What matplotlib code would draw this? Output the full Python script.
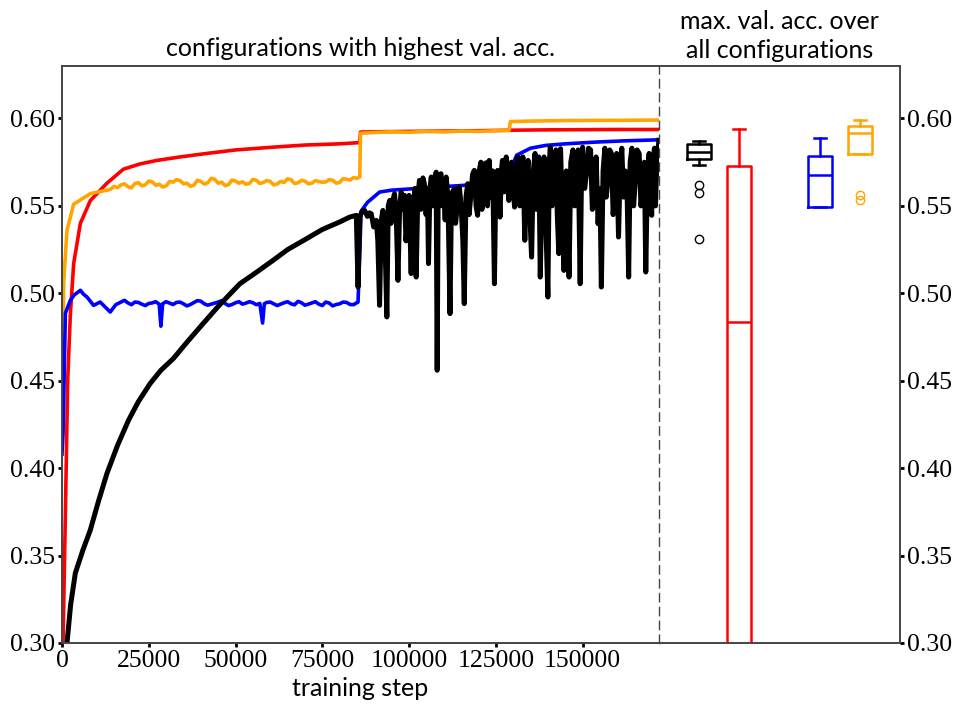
import numpy as np
from matplotlib import pyplot as plt

# ---- data ----
red_step = [0, 300, 980, 1640, 2410, 3370, 5290, 8160, 12960, 17700, 22500,
            27300, 34000, 41700, 50000, 60850, 70000, 80000, 85800, 86000,
            90000, 100000, 110000, 120000, 130000, 140000, 150000, 160000,
            172000]
red_acc = [0.28, 0.30, 0.374, 0.450, 0.488, 0.517, 0.540, 0.553, 0.563, 0.571,
           0.574, 0.576, 0.578, 0.580, 0.582, 0.5836, 0.5848, 0.5855, 0.5862,
           0.5922, 0.5924, 0.5926, 0.5928, 0.5930, 0.5933, 0.5935, 0.5936,
           0.5937, 0.5937]

orange_step = [0, 500, 1450, 3370, 5000, 8160, 12960,
               14000, 15000, 16000, 17000, 18000, 19000, 20000, 21000, 22000,
               23000, 24000, 25000, 26000, 27000, 28000, 29000, 30000, 31000,
               32000, 33000, 34000, 35000, 36000, 37000, 38000, 39000, 40000,
               41000, 42000, 43000, 44000, 45000, 46000, 47000, 48000, 49000,
               50000, 51000, 52000, 53000, 54000, 55000, 56000, 57000, 58000,
               59000, 60000, 61000, 62000, 63000, 64000, 65000, 66000, 67000,
               68000, 69000, 70000, 71000, 72000, 73000, 74000, 75000, 76000,
               77000, 78000, 79000, 80000, 81000, 82000, 83000, 84000, 85000,
               85800, 86000, 90000, 95000, 100000, 105000, 110000, 115000,
               120000, 125000, 128800, 129200, 135000, 145000, 155000, 165000,
               172000]
orange_acc = [0.42, 0.507, 0.536, 0.551, 0.553, 0.557, 0.559,
              0.5595, 0.5612, 0.5604, 0.5620, 0.5626, 0.5610, 0.5603, 0.5628,
              0.5633, 0.5615, 0.5620, 0.5642, 0.5638, 0.5618, 0.5624, 0.5608,
              0.5614, 0.5640, 0.5636, 0.5650, 0.5645, 0.5626, 0.5630, 0.5612,
              0.5618, 0.5646, 0.5640, 0.5625, 0.5632, 0.5658, 0.5652, 0.5630,
              0.5636, 0.5616, 0.5622, 0.5648, 0.5642, 0.5630, 0.5638, 0.5624,
              0.5628, 0.5652, 0.5646, 0.5628, 0.5634, 0.5645, 0.5640, 0.5620,
              0.5625, 0.5640, 0.5634, 0.5655, 0.5650, 0.5628, 0.5632, 0.5646,
              0.5642, 0.5626, 0.5630, 0.5644, 0.5640, 0.5635, 0.5637, 0.5650,
              0.5646, 0.5630, 0.5634, 0.5656, 0.5652, 0.5648, 0.5662, 0.5658,
              0.5665, 0.5915, 0.5920, 0.5924, 0.5921, 0.5926, 0.5923, 0.5928,
              0.5926, 0.5930, 0.5932, 0.5982, 0.5985, 0.5988, 0.5989, 0.5990,
              0.5991]

blue_step = [0, 300, 980, 2410, 3500, 5290, 6200, 7200, 9100, 11000, 13900,
             15500, 18000, 19000, 20000, 21000, 22000, 23000, 24000, 25000,
             26000, 27000, 28000, 28500, 29000, 30000, 31000, 32000, 33000,
             34000, 35000, 36000, 37000, 38000, 39000, 40000, 41000, 42000,
             43000, 44000, 45000, 46000, 47000, 48000, 49000, 50000, 51000,
             52000, 53000, 54000, 55000, 56000, 57000, 57800, 58300, 59000,
             60000, 61000, 62000, 63000, 64000, 65000, 66000, 67000, 68000,
             69000, 70000, 71000, 72000, 73000, 74000, 75000, 76000, 77000,
             78000, 79000, 80000, 81000, 82000, 83000, 84000, 85300, 86200,
             88000, 91500, 95000, 101000, 108000, 115450, 122000, 127900,
             129500, 131000, 135000, 139400, 145000, 153800, 162000, 172000]
blue_acc = [0.408, 0.420, 0.4886, 0.496, 0.499, 0.5017, 0.4995, 0.4979,
            0.4931, 0.4950, 0.4893, 0.4935, 0.4960, 0.4945, 0.4935, 0.4950,
            0.4948, 0.4938, 0.4930, 0.4942, 0.4945, 0.4952, 0.4938, 0.4812,
            0.4940, 0.4952, 0.4944, 0.4936, 0.4948, 0.4950, 0.4940, 0.4928,
            0.4936, 0.4947, 0.4958, 0.4955, 0.4940, 0.4932, 0.4938, 0.4944,
            0.4950, 0.4958, 0.4942, 0.4930, 0.4936, 0.4946, 0.4952, 0.4938,
            0.4944, 0.4952, 0.4946, 0.4935, 0.4942, 0.4830, 0.4940, 0.4948,
            0.4950, 0.4940, 0.4930, 0.4938, 0.4946, 0.4952, 0.4940, 0.4934,
            0.4954, 0.4946, 0.4932, 0.4938, 0.4945, 0.4952, 0.4938, 0.4930,
            0.4950, 0.4944, 0.4928, 0.4936, 0.4940, 0.4950, 0.4948, 0.4936,
            0.4935, 0.4950, 0.5470, 0.5520, 0.5579, 0.5590, 0.5598, 0.5608,
            0.5617, 0.5630, 0.5646, 0.5720, 0.5790, 0.5830, 0.5846, 0.5855,
            0.5865, 0.5872, 0.5878]

black_step = [1450, 2500, 3850, 6000, 8160, 10500, 12960, 16000, 19170, 22000,
              25400, 28500, 32100, 36000, 39780, 45000, 51270, 56000, 60850,
              65000, 70440, 75000, 80000, 82900, 84800,
              85300, 85800, 86500, 87200, 88000, 88600, 89100, 89800, 90560,
              91000, 91500, 92000, 92460, 93000, 93600, 94000, 94400, 94800,
              95200, 95800, 96300, 96800, 97300, 97740, 98200, 98700, 99100,
              99500, 100000, 100600, 101000, 101300, 101700, 102050, 102500,
              103000, 103400, 103700, 104000, 104400, 104900, 105300, 105600,
              106000, 106400, 106900, 107300, 107800, 108100, 108400, 108700,
              109200, 109600, 110000, 110400, 110700, 111200, 111800, 112200,
              112500, 113060, 113400, 113800, 114200, 114500, 115000, 115500,
              115900, 116400, 116900, 117300, 117800, 118300, 118800, 119300,
              119750, 120200, 120700, 121000, 121400, 121800, 122100, 122600,
              123100, 123600, 124100, 124600, 125000, 125500, 125900, 126200,
              126600, 126900, 127400, 128000, 128400, 128750, 129100, 129500,
              130000, 130400, 130900, 131400, 131900, 132300, 132800, 133350,
              133800, 134300, 134800, 135300, 135800, 136300, 136700, 137000,
              137400, 137800, 138300, 138900, 139400, 140000, 140400, 140700,
              141200, 141800, 142300, 142700, 143150, 143650, 144100, 144600,
              145000, 145300, 145700, 146100, 146600, 147200, 147700, 148200,
              148700, 149300, 149700, 150000, 150600, 151200, 151700, 152300,
              152800, 153300, 153900, 154450, 155000, 155400, 155900, 156400,
              156800, 157300, 157800, 158300, 158800, 159300, 159800, 160350,
              160800, 161300, 161800, 162300, 162800, 163270, 163700, 164200,
              164700, 165200, 165700, 166300, 166800, 167400, 167800, 168200,
              168700, 169170, 169500, 169900, 170300, 170700, 171000, 171300,
              171700, 172000]
black_acc = [0.300, 0.322, 0.340, 0.353, 0.3646, 0.381, 0.397, 0.413, 0.4274,
             0.438, 0.4484, 0.456, 0.4627, 0.472, 0.4807, 0.4925, 0.5055,
             0.512, 0.5189, 0.525, 0.5312, 0.5365, 0.5408, 0.5436, 0.5446,
             0.5036, 0.5440, 0.5470, 0.5474, 0.5440, 0.5460, 0.5455, 0.5380,
             0.5417, 0.5300, 0.4931, 0.5420, 0.5474, 0.5350, 0.4865, 0.5500,
             0.5531, 0.5400, 0.5520, 0.5570, 0.5450, 0.5074, 0.5500, 0.5579,
             0.5480, 0.5560, 0.5300, 0.5400, 0.5560, 0.5113, 0.5550, 0.5480,
             0.5600, 0.5093, 0.5550, 0.5646, 0.5480, 0.5540, 0.5660, 0.5627,
             0.5450, 0.5600, 0.5170, 0.5600, 0.5665, 0.5500, 0.5620, 0.5693,
             0.4560, 0.5620, 0.5660, 0.5684, 0.5500, 0.5600, 0.5420, 0.5665,
             0.5550, 0.4884, 0.5520, 0.5580, 0.5598, 0.5400, 0.5480, 0.5600,
             0.5607, 0.5500, 0.5300, 0.4941, 0.5550, 0.5627, 0.5450, 0.5560,
             0.5680, 0.5703, 0.5500, 0.5446, 0.5700, 0.5750, 0.5480, 0.5620,
             0.5740, 0.5746, 0.5500, 0.5760, 0.5550, 0.5700, 0.5055, 0.5650,
             0.5703, 0.5600, 0.5436, 0.5700, 0.5760, 0.5580, 0.5780, 0.5650,
             0.5531, 0.5700, 0.5750, 0.5600, 0.5493, 0.5720, 0.5780, 0.5500,
             0.5600, 0.5780, 0.5303, 0.5650, 0.5760, 0.5450, 0.5207, 0.5700,
             0.5800, 0.5480, 0.5550, 0.5780, 0.5093, 0.5600, 0.5780, 0.5400,
             0.4979, 0.5750, 0.5836, 0.5500, 0.5650, 0.5820, 0.5450, 0.5227,
             0.5827, 0.5500, 0.5131, 0.5600, 0.5700, 0.5400, 0.5093, 0.5750,
             0.5820, 0.5500, 0.5600, 0.5820, 0.5055, 0.5700, 0.5836, 0.5600,
             0.5700, 0.5830, 0.5820, 0.5480, 0.5550, 0.5780, 0.5398, 0.5600,
             0.5036, 0.5700, 0.5830, 0.5550, 0.5650, 0.5820, 0.5800, 0.5450,
             0.5600, 0.5800, 0.5322, 0.5700, 0.5830, 0.5550, 0.5700, 0.5600,
             0.5093, 0.5750, 0.5830, 0.5500, 0.5650, 0.5820, 0.5800, 0.5500,
             0.5600, 0.5750, 0.5122, 0.5700, 0.5800, 0.5600, 0.5446, 0.5750,
             0.5830, 0.5500, 0.5700, 0.5820, 0.5875]

# box statistics of max. val. acc. over all configurations
box_colors = ["black", "red", "blue", "orange"]
box_pos = [1, 2, 4, 5]
box_whislo = [0.5733, 0.10, 0.5493, 0.5794]
box_q1 = [0.5770, 0.20, 0.5495, 0.5794]
box_med = [0.5808, 0.4834, 0.5676, 0.5916]
box_q3 = [0.5855, 0.5731, 0.5785, 0.5956]
box_whishi = [0.5874, 0.5941, 0.5887, 0.5994]
box_fliers = [[0.5621, 0.5573, 0.531], [], [], [0.5560, 0.5531]]

serif = "Liberation Serif"
sans = "Lato"
tick_size = 18.5
text_size = 18

fig = plt.figure(figsize=(9.61, 7.13), dpi=100)
ax = fig.add_axes([0.0645, 0.0982, 0.6212, 0.8092])
ax2 = fig.add_axes([0.6857, 0.0982, 0.2508, 0.8092])

# lines
ax.plot(red_step, red_acc, color="red", lw=2.6)
ax.plot(orange_step, orange_acc, color="orange", lw=2.6)
ax.plot(blue_step, blue_acc, color="blue", lw=2.6)
ax.plot(black_step, black_acc, color="black", lw=3.6)

ax.set_xlim(0, 172000)
ax.set_ylim(0.30, 0.63)
ax.set_xticks(np.arange(0, 150001, 25000))
ax.set_yticks(np.arange(0.30, 0.601, 0.05))
ax.set_yticklabels([f"{v:.2f}" for v in np.arange(0.30, 0.601, 0.05)])
ax.set_xlabel("training step", family=sans, fontsize=text_size, labelpad=4)
ax.set_title("configurations with highest val. acc.", family=sans,
             fontsize=text_size, pad=7)

# boxplots
stats = []
for i in range(len(box_pos)):
    stats.append({"med": box_med[i], "q1": box_q1[i], "q3": box_q3[i],
                  "whislo": box_whislo[i], "whishi": box_whishi[i],
                  "fliers": box_fliers[i]})
for i, c in enumerate(box_colors):
    ax2.bxp([stats[i]], positions=[box_pos[i]], widths=0.6,
            boxprops=dict(color=c, lw=1.8),
            medianprops=dict(color=c, lw=1.8),
            whiskerprops=dict(color=c, lw=1.8),
            capprops=dict(color=c, lw=1.8),
            flierprops=dict(marker="o", markerfacecolor="none",
                            markeredgecolor=c, markersize=6))
ax2.set_xlim(0, 6)
ax2.set_ylim(0.30, 0.63)
ax2.set_xticks([])
ax2.yaxis.tick_right()
ax2.set_yticks(np.arange(0.30, 0.601, 0.05))
ax2.set_yticklabels([f"{v:.2f}" for v in np.arange(0.30, 0.601, 0.05)])
ax2.set_title("max. val. acc. over\nall configurations", family=sans,
              fontsize=text_size, pad=6, linespacing=1.3)

for a in (ax, ax2):
    for s in a.spines.values():
        s.set_color("#444444")
        s.set_linewidth(1.4)
    a.tick_params(direction="out", length=3, width=2, pad=2,
                  labelsize=tick_size)
    for lab in a.get_xticklabels() + a.get_yticklabels():
        lab.set_family(serif)

ax.spines["right"].set_visible(False)
ax2.spines["left"].set_linestyle((0, (6, 4)))
ax2.spines["left"].set_linewidth(1.0)

fig.savefig("out.png", dpi=100)
